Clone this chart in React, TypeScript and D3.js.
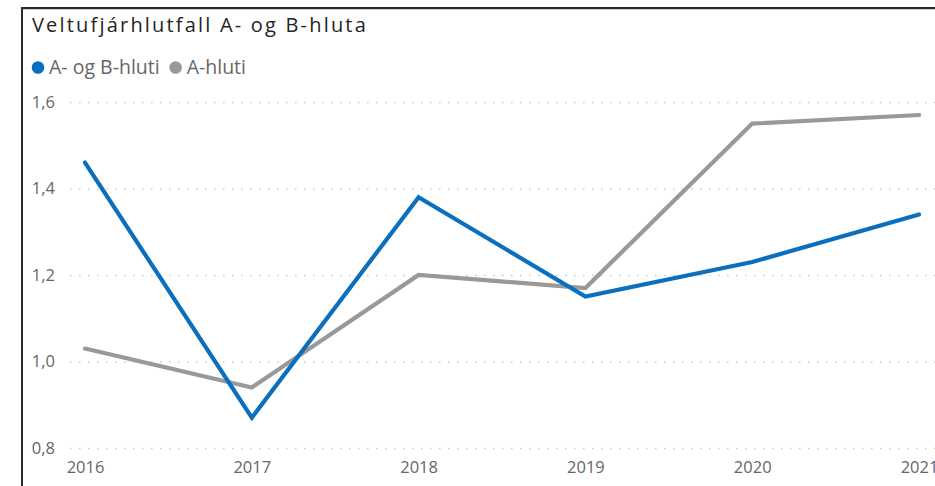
import React, { useRef, useEffect } from 'react';
import * as d3 from 'd3';

const years = ['2016', '2017', '2018', '2019', '2020', '2021'];
const abValues = [1.46, 0.87, 1.38, 1.15, 1.23, 1.34];
const aValues = [1.03, 0.94, 1.2, 1.17, 1.55, 1.57];
const yTicks = [0.8, 1.0, 1.2, 1.4, 1.6];
const seriesNames = ['A- og B-hluti', 'A-hluti'];
const colors = ['#0B6FBE', '#999999'];

const W = 935;
const H = 486;
const FONT = '"Open Sans", "Noto Sans", sans-serif';

export default function App() {
  const ref = useRef<SVGSVGElement>(null);

  useEffect(() => {
    const svg = d3.select(ref.current);
    svg.selectAll('*').remove();

    // frame (cropped visual border)
    svg.append('line').attr('x1', 22).attr('x2', W).attr('y1', 8).attr('y2', 8)
      .attr('stroke', '#2a2a2a').attr('stroke-width', 2);
    svg.append('line').attr('x1', 22).attr('x2', W).attr('y1', 9.5).attr('y2', 9.5)
      .attr('stroke', '#cfcfcf').attr('stroke-width', 1);
    svg.append('line').attr('x1', 22).attr('x2', 22).attr('y1', 7).attr('y2', H)
      .attr('stroke', '#2a2a2a').attr('stroke-width', 2);

    // title - the original font is wider, so spread the letters to fit its width
    const title = svg.append('text')
      .attr('x', 32).attr('y', 32)
      .style('font-family', FONT).style('font-size', '20px')
      .attr('fill', '#252423')
      .text('Veltufjárhlutfall A- og B-hluta');
    const tw = (title.node() as SVGTextElement).getComputedTextLength();
    const txt = 'Veltufjárhlutfall A- og B-hluta';
    title.style('letter-spacing', `${Math.max(0, (336 - tw) / txt.length)}px`);

    // legend
    let lx = 38;
    seriesNames.forEach((name, i) => {
      svg.append('circle').attr('cx', lx).attr('cy', 67.5).attr('r', 6.3).attr('fill', colors[i]);
      const t = svg.append('text')
        .attr('x', lx + 11).attr('y', 74)
        .style('font-family', FONT).style('font-size', '19.5px')
        .attr('fill', '#666666')
        .text(name);
      const w = (t.node() as SVGTextElement).getComputedTextLength();
      lx = lx + 11 + w + 16;
    });

    const x = d3.scalePoint<string>().domain(years).range([85, 919]);
    const y = d3.scaleLinear().domain([0.8, 1.6]).range([448, 102]);

    // grid
    const grid = svg.append('g')
      .attr('transform', 'translate(70,0)')
      .call(d3.axisLeft(y).tickValues(yTicks).tickSize(-(W - 70)).tickFormat(() => ''));
    grid.select('.domain').remove();
    grid.selectAll('.tick line')
      .attr('stroke', '#c8c8c8').attr('stroke-width', 1.5).attr('stroke-dasharray', '1.5,7.5');

    // y axis labels
    const yAxis = svg.append('g')
      .attr('transform', 'translate(60,0)')
      .call(d3.axisLeft(y).tickValues(yTicks).tickSize(0).tickPadding(5)
        .tickFormat((d) => d3.format('.1f')(d as number).replace('.', ',')));
    yAxis.select('.domain').remove();
    yAxis.selectAll('text')
      .style('font-family', FONT).style('font-size', '16.5px').attr('fill', '#666666');

    // x axis labels
    const xAxis = svg.append('g')
      .attr('transform', 'translate(0,0)')
      .call(d3.axisBottom(x).tickSize(0).tickPadding(0));
    xAxis.select('.domain').remove();
    xAxis.selectAll('text')
      .attr('y', 473).attr('dy', 0)
      .style('font-family', FONT).style('font-size', '16.5px').attr('fill', '#666666');

    const line = d3.line<number>()
      .x((_, i) => x(years[i]) as number)
      .y((d) => y(d));

    [aValues, abValues].forEach((vals, k) => {
      svg.append('path')
        .datum(vals)
        .attr('fill', 'none')
        .attr('stroke', k === 0 ? colors[1] : colors[0])
        .attr('stroke-width', 4.2)
        .attr('stroke-linejoin', 'miter')
        .attr('stroke-linecap', 'round')
        .attr('d', line);
    });
  }, []);

  return (
    <svg ref={ref} width={W} height={H}
      style={{ position: 'absolute', left: 0, top: 0, background: '#fff' }} />
  );
}
